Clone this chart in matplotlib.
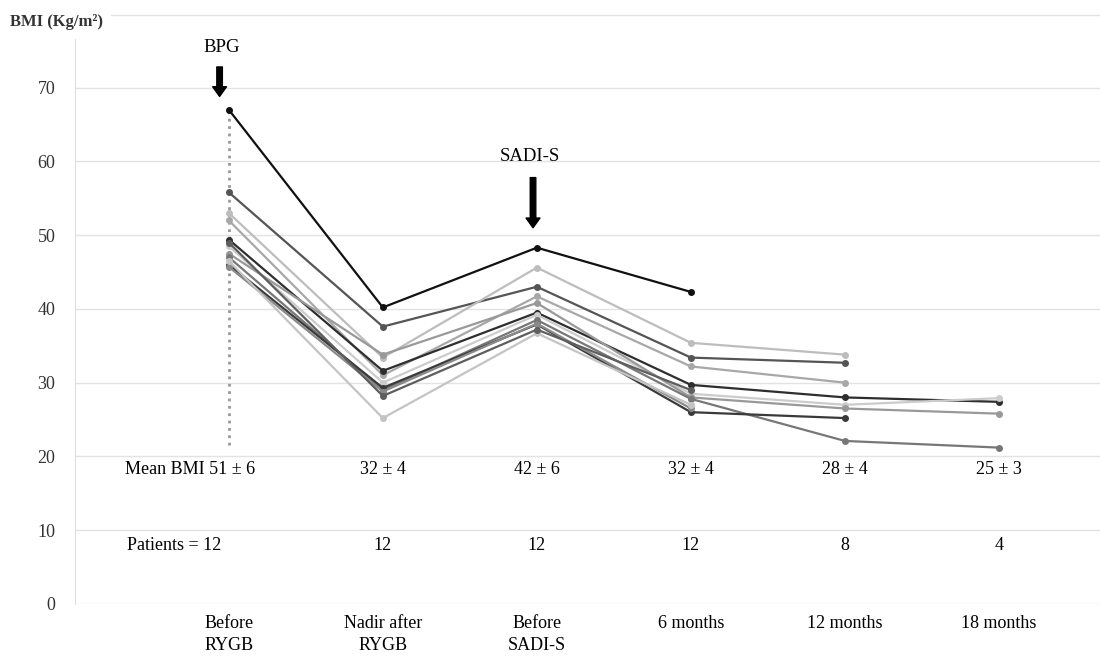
"""BMI course of 12 patients from RYGB to SADI-S follow-up."""

import matplotlib.pyplot as plt
import numpy as np

nan = np.nan

# Time points on the x-axis.
categories = ["Before\nRYGB", "Nadir after\nRYGB", "Before\nSADI-S",
              "6 months", "12 months", "18 months"]

# BMI per patient (Kg/m2), NaN where the patient has no follow-up yet.
patient_bmi = [
    [67.0, 40.2, 48.3, 42.3, nan, nan],
    [55.8, 37.6, 43.0, 33.4, 32.7, nan],
    [53.0, 33.4, 45.6, 35.4, 33.8, nan],
    [52.0, 31.0, 41.7, 32.2, 30.0, nan],
    [49.4, 31.6, 39.5, 29.7, 28.0, 27.4],
    [48.5, 30.0, 39.2, 28.5, 27.0, 27.9],
    [47.5, 33.8, 40.8, 28.0, 26.5, 25.8],
    [47.0, 29.0, 38.5, 27.8, 22.1, 21.2],
    [46.0, 29.3, 37.9, 26.0, 25.2, nan],
    [45.7, 28.8, 38.0, 26.5, nan, nan],
    [46.5, 25.2, 36.7, 27.0, nan, nan],
    [49.0, 28.2, 37.2, 29.0, nan, nan],
]
patient_colors = ["#111111", "#555555", "#bdbdbd", "#a8a8a8", "#2e2e2e",
                  "#cccccc", "#999999", "#777777", "#3a3a3a", "#8a8a8a",
                  "#c4c4c4", "#5e5e5e"]

# Summary rows written under the curves.
mean_labels = ["Mean BMI 51 \u00b1 6", "32 \u00b1 4", "42 \u00b1 6",
               "32 \u00b1 4", "28 \u00b1 4", "25 \u00b1 3"]
patient_labels = ["Patients = 12", "12", "12", "12", "8", "4"]

plt.rcParams["font.family"] = ["Liberation Serif", "DejaVu Serif"]

fig = plt.figure(figsize=(11, 6.59), dpi=100)
ax = fig.add_axes([0.068, 0.0835, 0.932, 0.8955])

x = np.arange(1, len(categories) + 1)

# Dotted marker line at the first time point.
ax.plot([x[0], x[0]], [21.5, 67], color="#999999", linestyle=":",
        linewidth=2, zorder=1)

for bmi, color in zip(patient_bmi, patient_colors):
    bmi = np.array(bmi)
    ok = ~np.isnan(bmi)
    ax.plot(x[ok], bmi[ok], color=color, linewidth=1.6, marker="o",
            markersize=4, zorder=3)

# Summary text rows.
for i, (m, p) in enumerate(zip(mean_labels, patient_labels)):
    if i == 0:
        ax.text(1.17, 18.2, m, ha="right", va="center", fontsize=13)
        ax.text(0.34, 7.9, p, ha="left", va="center", fontsize=13)
    else:
        ax.text(x[i], 18.2, m, ha="center", va="center", fontsize=13)
        ax.text(x[i], 7.9, p, ha="center", va="center", fontsize=13)

# Surgery arrows.
arrow = dict(facecolor="black", edgecolor="black", width=4, headwidth=10,
             headlength=7)
ax.annotate("", xy=(0.94, 68.8), xytext=(0.94, 72.8), arrowprops=arrow)
ax.text(0.955, 75.4, "BPG", ha="center", va="center", fontsize=13.5)
ax.annotate("", xy=(2.975, 51.0), xytext=(2.975, 57.8), arrowprops=arrow)
ax.text(2.955, 60.6, "SADI-S", ha="center", va="center", fontsize=13.5)

ax.set_xlim(0, 6.656)
ax.set_ylim(0, 80)
ax.set_yticks(np.arange(0, 80, 10))
ax.set_xticks(x)
ax.set_xticklabels(categories, fontsize=13, va="top", linespacing=1.4)
ax.tick_params(axis="y", labelsize=13, length=0, pad=14,
               labelcolor="#333333")
ax.tick_params(axis="x", length=0, pad=8)

ax.grid(axis="y", color="#e3e3e3", linewidth=1)
ax.axhline(79.9, color="#e3e3e3", linewidth=1, zorder=0)
ax.set_axisbelow(True)
for side in ["top", "right", "bottom"]:
    ax.spines[side].set_visible(False)
ax.spines["left"].set_color("#dddddd")
ax.spines["left"].set_bounds(0, 77.5)

fig.text(0.009, 0.966, "BMI (Kg/m\u00b2)", fontsize=12, fontweight="bold",
         ha="left", va="center", color="#333333",
         bbox=dict(facecolor="white", edgecolor="none", pad=6))

fig.savefig("out.png", dpi=100)
